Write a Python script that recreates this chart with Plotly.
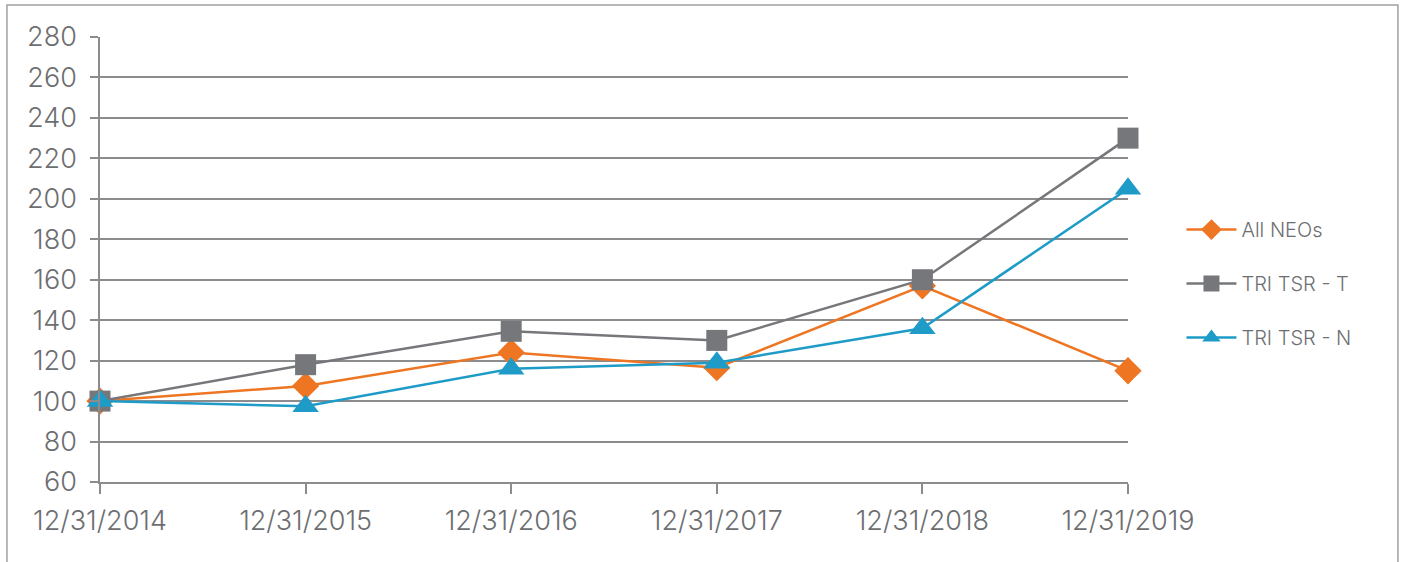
import plotly.graph_objects as go

dates = ["12/31/2014", "12/31/2015", "12/31/2016", "12/31/2017", "12/31/2018", "12/31/2019"]
all_neos = [100, 107.5, 124, 116.5, 157, 115]
tri_tsr_t = [100, 118, 134.5, 130, 160, 230]
tri_tsr_n = [100, 97.5, 116, 119, 136, 205]

ORANGE = "#EE7623"
GRAY = "#76777A"
BLUE = "#1E9BC7"
TEXT = "#6D6E71"
GRID = "#8C8C8E"
FONT = "Inter"

xpos = list(range(len(dates)))

fig = go.Figure()
series = [
    ("All NEOs", all_neos, ORANGE, "diamond", 21),
    ("TRI TSR - T", tri_tsr_t, GRAY, "square", 21),
    ("TRI TSR - N", tri_tsr_n, BLUE, "triangle-up", 23),
]
for i, (name, vals, col, sym, sz) in enumerate(series):
    fig.add_trace(go.Scatter(
        x=xpos, y=vals, name=name, mode="lines+markers",
        line=dict(color=col, width=2.5),
        marker=dict(symbol=sym, size=sz, color=col, line=dict(width=0)),
        legendgroup=f"g{i}",
        cliponaxis=False,
    ))

fig.update_layout(
    width=1405, height=562,
    margin=dict(l=100, r=277, t=37, b=80),
    paper_bgcolor="white", plot_bgcolor="white",
    font=dict(family=FONT, color=TEXT, weight=300),
    showlegend=True,
    legend=dict(
        x=1.052, xanchor="left", y=0.446, yanchor="middle",
        font=dict(size=20, color=TEXT, family=FONT, weight=300),
        tracegroupgap=25, itemwidth=50,
        bgcolor="rgba(0,0,0,0)",
    ),
    xaxis=dict(
        range=[0, 5], tickvals=xpos, ticktext=dates,
        showgrid=False, zeroline=False,
        showline=True, linecolor=GRID, linewidth=1.5,
        ticks="outside", ticklen=10, tickwidth=1.5, tickcolor=GRID,
        tickfont=dict(size=27, color=TEXT, family=FONT, weight=300),
        ticklabelstandoff=4,
    ),
    yaxis=dict(
        range=[60, 280], dtick=20, tick0=60,
        showgrid=True, gridcolor=GRID, gridwidth=1.5,
        zeroline=False,
        showline=True, linecolor=GRID, linewidth=1.5,
        ticks="outside", ticklen=8, tickwidth=1.5, tickcolor=GRID,
        tickfont=dict(size=27, color=TEXT, family=FONT, weight=300),
        ticklabelstandoff=8,
    ),
)

# outer frame of the chart
fig.add_shape(type="rect", xref="paper", yref="paper",
              x0=-0.0905, x1=1.2626, y0=-0.25, y1=1.0719,
              line=dict(color="#A0A0A2", width=1.5), fillcolor="rgba(0,0,0,0)", layer="below")

fig.write_html("out.html",
               config={"displayModeBar": False},
               post_script="document.body.style.margin='0';document.body.style.overflow='hidden';")
